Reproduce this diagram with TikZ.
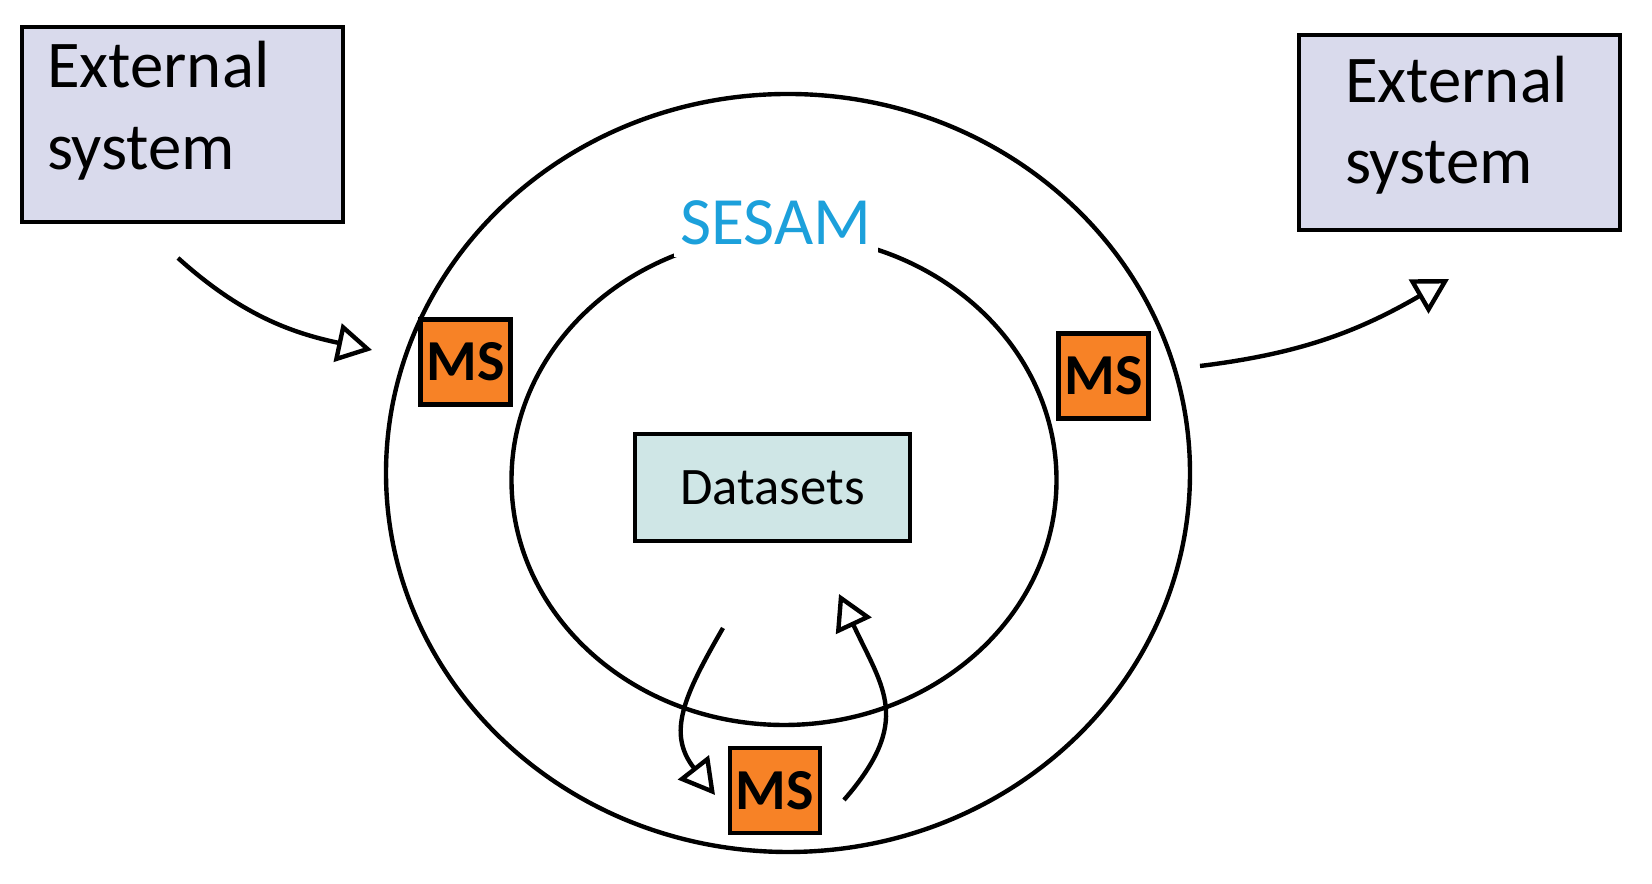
\documentclass[tikz,border=0pt]{standalone}
\usepackage{fontspec}
\setmainfont{Carlito}
\usepackage{tikz}
\usetikzlibrary{calc, positioning, arrows.meta}
\definecolor{extfill}{RGB}{217,218,236}
\definecolor{datafill}{RGB}{207,230,230}
\definecolor{msfill}{RGB}{247,130,38}
\definecolor{sesamblue}{RGB}{28,160,219}
\tikzstyle{extsys}=[draw, line width=2.5pt, fill=extfill, minimum width=6.42cm, minimum height=3.9cm, align=left, inner sep=0pt, outer sep=0pt, font=\fontsize{38}{46.5}\selectfont]
\tikzstyle{ms}=[draw, line width=2.5pt, fill=msfill, minimum width=1.8cm, minimum height=1.7cm, inner sep=0pt, font=\bfseries\fontsize{33}{38}\selectfont]
\tikzstyle{dset}=[draw, line width=2.5pt, fill=datafill, minimum width=5.5cm, minimum height=2.14cm, font=\fontsize{30}{36}\selectfont]
\tikzstyle{ring}=[line width=2.5pt]
\tikzstyle{flow}=[line width=2.5pt, ->]
\tikzset{>={Triangle[open, length=20pt, width=22pt]}}

\begin{document}
\begin{tikzpicture}
\useasboundingbox (0,0) rectangle (33.04,17.68);
% the two rings of SESAM
\draw[ring] (15.76,8.22) ellipse [x radius=8.04, y radius=7.58];
\draw[ring] (15.68,8.08) ellipse [x radius=5.45, y radius=4.9];
\node[fill=white, text=sesamblue, inner xsep=0.12cm, inner ysep=0.24cm, font=\fontsize{38.5}{44}\selectfont] (sesam) at (15.52,13.23) {SESAM};
% the external systems
\node[extsys, text width=5.42cm, text depth=68pt] (extL) at (3.65,15.19) {External\\system};
\node[extsys, text width=4.58cm, text depth=61pt] (extR) at (29.19,15.03) {External\\system};
% the datasets and the three MS boxes
\node[dset] (data) at (15.45,7.93) {Datasets};
\node[ms] (msL) at (9.31,10.44) {MS};
\node[ms] (msR) at (22.07,10.16) {MS};
\node[ms] (msB) at (15.5,1.87) {MS};
% the free ends of the flows
\coordinate (inS) at (3.56,12.52);
\coordinate (inE) at (7.44,10.68);
\coordinate (outS) at (24.0,10.36);
\coordinate (outE) at (28.98,12.1);
\coordinate (downS) at (14.46,5.12);
\coordinate (downE) at (14.3,1.78);
\coordinate (upS) at (16.88,1.68);
\coordinate (upE) at (16.78,5.8);
% the flows
\draw[flow] (inS) to[out=-42, in=168] (inE);
\draw[flow] (outS) to[out=7, in=210] (outE);
\draw[flow] (downS) to[out=-120, in=128, looseness=1.2] (downE);
\draw[flow] (upS) to[out=49, in=-65, looseness=1.3] (upE);
\end{tikzpicture}
\end{document}
